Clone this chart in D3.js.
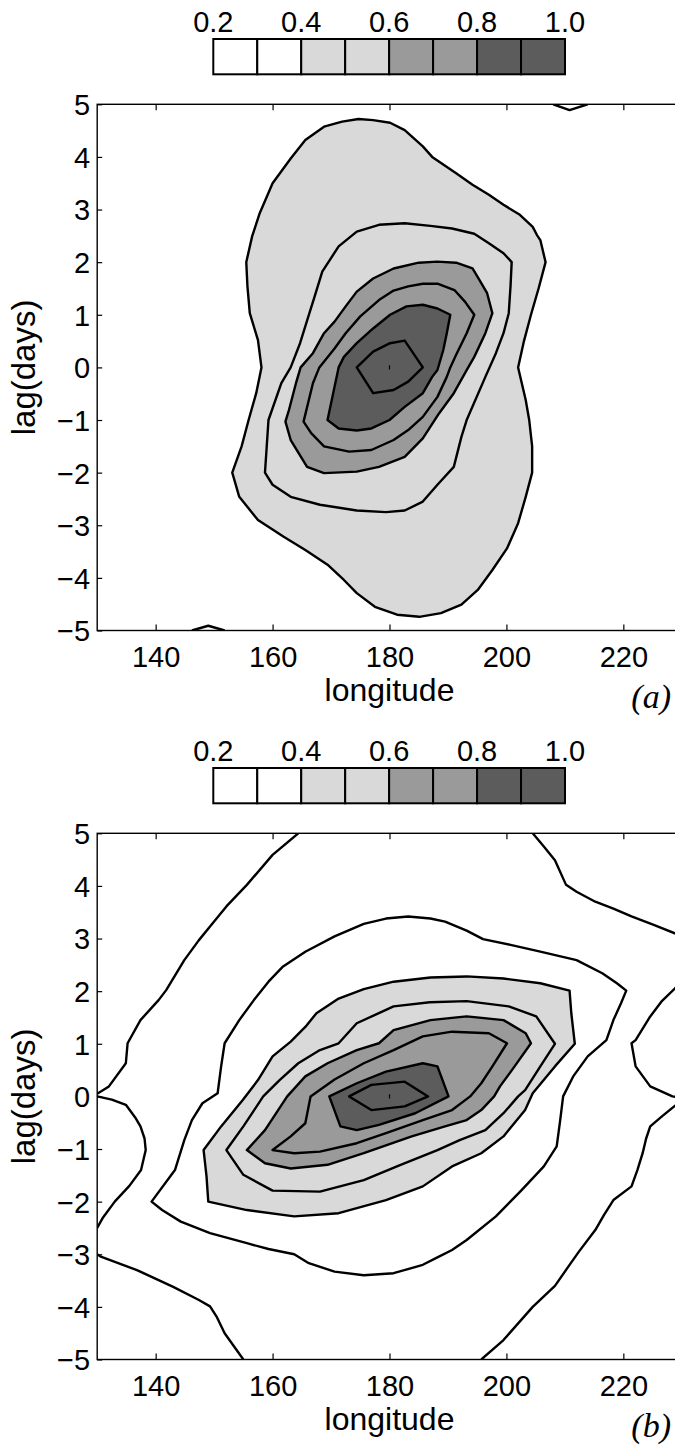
<!DOCTYPE html>
<html>
<head>
<meta charset="utf-8">
<script src="https://cdn.jsdelivr.net/npm/d3@7"></script>
<style>
  body { margin: 0; background: #fff; }
  svg { display: block; }
</style>
</head>
<body>
<svg id="chart" width="675" height="1447"></svg>
<script>
// ---- data ----
var cbLevels = [0.2, 0.3, 0.4, 0.5, 0.6, 0.7, 0.8, 0.9, 1.0];
var cbTicks = [0.2, 0.4, 0.6, 0.8, 1.0];
var lonTicks = [140, 160, 180, 200, 220];
var lagTicks = [-5, -4, -3, -2, -1, 0, 1, 2, 3, 4, 5];

// contour vertices as [longitude, lag]
// panel (a)
var a02top = [[208, 5], [210.8, 4.89], [213.9, 5]];
var a02bot = [[146.2, -5], [149, -4.91], [151.8, -5]];
var a04 = [[174.7, 4.72], [177.2, 4.70], [180.1, 4.65], [182.6, 4.51], [185.7, 4.2], [187.3, 4.0], [191.4, 3.69],
  [194.2, 3.47], [197, 3.28], [199.5, 3.09], [202.3, 2.9], [204.5, 2.67], [205.2, 2.52], [205.8, 2.42], [206.7, 2.0],
  [205.5, 1.5], [204.2, 1.0], [203, 0.5], [202, 0.0], [202.5, -0.24], [203.3, -0.62], [203.9, -1.0], [204.4, -1.5],
  [204.4, -2.0], [203.3, -2.46], [202, -2.96], [200.1, -3.44], [197.6, -3.85], [195.1, -4.23], [192.3, -4.51],
  [188.8, -4.67], [185.1, -4.74], [181.3, -4.70], [177.5, -4.55], [174.4, -4.29], [172.2, -4.04], [169.4, -3.75],
  [165.6, -3.47], [161.9, -3.22], [157.5, -2.9], [154.3, -2.46], [153.1, -2.0], [154.7, -1.5], [155.9, -1.0],
  [157.2, -0.49], [158.1, 0], [157.5, 0.52], [156.1, 1.03], [155.7, 1.54], [155.5, 2.0], [156.5, 2.49], [157.8, 2.93],
  [160, 3.5], [163.1, 3.97], [165.6, 4.32], [168.8, 4.575], [171.9, 4.67]];
var a05 = [[182.6, 2.74], [187, 2.69], [190.7, 2.64], [194.5, 2.54], [197, 2.36], [199.5, 2.17], [200.9, 2.0],
  [200.7, 1.54], [200.4, 1.03], [199.5, 0.65], [198.2, 0.27], [196.4, -0.18], [193.2, -1.0], [192.3, -1.32],
  [191, -1.89], [188.2, -2.23], [185.7, -2.55], [182.6, -2.72], [179.4, -2.75], [174.4, -2.72], [168.1, -2.61],
  [163.1, -2.46], [160, -2.23], [158.7, -2.0], [159, -1.5], [159.3, -1.0], [161.5, -0.30], [163.1, 0.0],
  [164.7, 0.46], [166.3, 1.03], [167.2, 1.35], [168.5, 1.82], [171.3, 2.30], [174.4, 2.58], [178.2, 2.71]];
var a06 = [[185, 1.99], [188.2, 2.01], [191.4, 1.99], [194.2, 1.88], [195.4, 1.66], [196.7, 1.41], [197.6, 1.03],
  [196.4, 0.65], [194.5, 0.20], [193.2, -0.05], [191, -0.49], [188.5, -0.87], [185.7, -1.35], [182.6, -1.70],
  [178.2, -1.89], [174.4, -1.98], [168.8, -2.01], [165.9, -1.89], [163.1, -1.38], [162.2, -1.03], [162.8, -0.81],
  [164, -0.3], [164.8, 0], [166.9, 0.27], [168.8, 0.65], [170.6, 0.87], [172.5, 1.16], [174.4, 1.44], [177.2, 1.69],
  [180.7, 1.88]];
var a07 = [[185.7, 1.59], [188.2, 1.59], [191.1, 1.47], [192.9, 1.25], [194.5, 1.0], [193.2, 0.65], [191.4, 0.24],
  [190.4, 0], [189.8, -0.18], [188.2, -0.56], [185.7, -0.94], [183.2, -1.19], [180.7, -1.38], [176.9, -1.57],
  [173.1, -1.6], [168.8, -1.5], [166.6, -1.25], [165.3, -1.03], [166.9, -0.30], [168, 0], [170.6, 0.36],
  [172.5, 0.65], [175, 0.97], [178.2, 1.28], [180.7, 1.46], [183.2, 1.54]];
var a08 = [[185.7, 1.19], [188.2, 1.12], [190.4, 1.0], [189.8, 0.65], [189.2, 0.33], [188.2, -0.05], [187.3, -0.18],
  [185.7, -0.49], [182.6, -0.75], [180, -1.0], [176.9, -1.16], [174.4, -1.2], [171.3, -1.16], [169.4, -1.0],
  [170.6, -0.37], [171.3, 0], [172.2, 0.20], [174.4, 0.46], [177.2, 0.74], [180.1, 1.0], [182.9, 1.16]];
var a09 = [[182.6, 0.51], [180.1, 0.46], [177.2, 0.30], [174.4, 0], [177.2, -0.49], [180.7, -0.43], [183.2, -0.27], [185.7, 0]];
var a10 = [[180, -0.04], [180, 0.04]];

// panel (b)
var b02topLeft = [[164.4, 5], [160, 4.59], [155.6, 4.02], [152.1, 3.61], [149.3, 3.23], [147.4, 2.97], [144.9, 2.59],
  [141.8, 2.02], [140.5, 1.83], [137.4, 1.45], [135.2, 1.01], [134.9, 0.63], [132, 0.19], [130, 0.05]];
var b02topRight = [[204.5, 5], [206.4, 4.75], [208.3, 4.49], [210.2, 4.02], [212, 3.89], [215.2, 3.7], [218.3, 3.57],
  [221.4, 3.42], [225.2, 3.26], [228.8, 3.1], [230, 3.04]];
var b02leftLoop = [[130, 0.0], [132.5, -0.06], [134.9, -0.16], [136.5, -0.4], [137.4, -0.57], [138.1, -0.8],
  [138.3, -1.02], [137.5, -1.4], [135.5, -1.7], [133, -2.0], [131, -2.3], [130, -2.5]];
var b02lowLeft = [[130, -3.0], [130.5, -3.04], [136.8, -3.3], [143, -3.62], [147.4, -3.87], [149.3, -3.99],
  [150.5, -4.2], [151.8, -4.5], [155, -5]];
var b02rightLoop = [[230, 2.2], [228.8, 2.05], [226.5, 1.8], [224.6, 1.52], [222.1, 1.07], [221.4, 1.01], [222.1, 0.57],
  [224.6, 0.19], [228.4, 0.0], [230, -0.02]];
var b02lowRight = [[230, -0.12], [228.8, -0.18], [226.6, -0.38], [224.6, -0.57], [223.9, -0.8], [223.3, -1.08],
  [222.4, -1.4], [221.4, -1.71], [218.3, -1.97], [216.7, -2.25], [215.2, -2.54], [212.4, -2.95], [210.5, -3.25],
  [208.3, -3.6], [204.5, -4.0], [199.5, -4.63], [195.7, -5]];
var b03 = [[151.8, 1.01], [154.3, 1.45], [156.8, 1.83], [159.3, 2.18], [161.8, 2.47], [165.6, 2.75], [170.6, 3.04],
  [175.6, 3.28], [179.4, 3.38], [183.2, 3.42], [187, 3.38], [189.5, 3.32], [193.2, 3.15], [196, 2.99], [200.7, 2.88],
  [205.8, 2.75], [212, 2.59], [216.4, 2.34], [218.9, 2.15], [220.5, 2.01], [219.6, 1.77], [218.3, 1.45], [217.1, 1.07],
  [213.9, 0.76], [211.4, 0.375], [209.7, 0], [209.2, -0.45], [208.6, -0.95], [206.4, -1.33], [202.6, -1.78],
  [198.2, -2.28], [193.2, -2.73], [190.7, -2.92], [188.2, -3.06], [185.7, -3.2], [180.7, -3.36], [175.6, -3.4],
  [170.6, -3.33], [166.2, -3.17], [163.7, -3.0], [159.3, -2.9], [155.6, -2.79], [149.3, -2.6], [144.3, -2.38],
  [141.1, -2.16], [139.3, -2.0], [143.3, -1.40], [144.9, -0.83], [146.2, -0.45], [148, -0.13], [150.6, 0.06],
  [151.2, 0.57]];
var b04 = [[148.2, -1.02], [151.2, -0.57], [154.9, -0.07], [157.5, 0.31], [160, 0.76], [163.1, 1.04], [165.6, 1.32],
  [167.5, 1.58], [171.3, 1.86], [175.6, 2.04], [180.7, 2.18], [187, 2.26], [193.2, 2.28], [199.5, 2.24], [205.8, 2.15],
  [210.8, 2.01], [211.1, 1.58], [211.7, 1.0], [208.3, 0.57], [204.5, 0.06], [203.2, -0.26], [199.5, -0.76],
  [195.7, -1.08], [190.7, -1.33], [185.7, -1.71], [179.4, -1.97], [171.3, -2.22], [163.7, -2.28], [155.6, -2.16],
  [149, -2.0], [148.7, -1.52]];
var b05 = [[174.4, 1.39], [180.7, 1.71], [186.9, 1.79], [193.2, 1.81], [200.4, 1.71], [205.1, 1.52], [208.3, 1.0],
  [205.8, 0.57], [203.2, 0.12], [202, 0], [199.5, -0.32], [196.4, -0.64], [192, -0.83], [188.2, -1.02], [181.9, -1.30],
  [175.6, -1.59], [168.1, -1.81], [160, -1.79], [155, -1.49], [152.1, -1.02], [155, -0.57], [158.4, 0], [161.2, 0.31],
  [164.4, 0.63], [168.1, 0.88], [171.3, 1.01]];
var b06 = [[180.7, 1.26], [187, 1.45], [193.2, 1.52], [199.5, 1.45], [203.3, 1.2], [204.2, 1.01], [201.4, 0.57],
  [198.9, 0.19], [197.9, 0], [195.7, -0.26], [193.2, -0.45], [189.5, -0.57], [183.8, -0.76], [175.6, -1.08],
  [169.4, -1.30], [163.1, -1.37], [158.7, -1.27], [155.6, -1.02], [158.7, -0.64], [162.5, 0], [165.6, 0.38],
  [169.4, 0.63], [174.4, 0.88], [178.2, 1.01]];
var b07 = [[185.7, 1.14], [190.7, 1.23], [197, 1.2], [200.1, 1.01], [197.6, 0.57], [195.7, 0.25], [193.8, 0],
  [190.7, -0.26], [185.7, -0.45], [179.4, -0.70], [174.4, -0.89], [168.1, -1.05], [163.7, -1.08], [160, -1.02],
  [163.1, -0.76], [165.6, -0.51], [166.5, 0], [170.6, 0.32], [175.6, 0.63], [180.7, 0.88]];
var b08 = [[169.7, 0], [174.4, 0.25], [179.4, 0.47], [185.7, 0.63], [188.2, 0.57], [190.1, 0], [184.4, -0.32],
  [178.2, -0.54], [174.4, -0.64], [171.6, -0.57]];
var b09 = [[173.1, 0], [176.9, 0.22], [182.6, 0.28], [186.6, 0], [182.6, -0.19], [176.9, -0.26]];
var b10 = [[180, -0.04], [180, 0.04]];

var panelA = [
  { level: 0.2, closed: false, pts: a02top },
  { level: 0.2, closed: false, pts: a02bot },
  { level: 0.4, closed: true, pts: a04 },
  { level: 0.5, closed: true, pts: a05 },
  { level: 0.6, closed: true, pts: a06 },
  { level: 0.7, closed: true, pts: a07 },
  { level: 0.8, closed: true, pts: a08 },
  { level: 0.9, closed: true, pts: a09 },
  { level: 1.0, closed: false, pts: a10 }
];
var panelB = [
  { level: 0.2, closed: false, pts: b02topLeft },
  { level: 0.2, closed: false, pts: b02topRight },
  { level: 0.2, closed: false, pts: b02leftLoop },
  { level: 0.2, closed: false, pts: b02lowLeft },
  { level: 0.2, closed: false, pts: b02rightLoop },
  { level: 0.2, closed: false, pts: b02lowRight },
  { level: 0.3, closed: true, pts: b03 },
  { level: 0.4, closed: true, pts: b04 },
  { level: 0.5, closed: true, pts: b05 },
  { level: 0.6, closed: true, pts: b06 },
  { level: 0.7, closed: true, pts: b07 },
  { level: 0.8, closed: true, pts: b08 },
  { level: 0.9, closed: true, pts: b09 },
  { level: 1.0, closed: false, pts: b10 }
];

// ---- layout ----
var plot = { left: 97.2, right: 681.8, top: 104.3, bottom: 630.5 };
var panelShift = 729;
var fontSans = "'Liberation Sans', Arial, Helvetica, sans-serif";

// gray bands: white below 0.4, then light, mid, dark
var color = d3.scaleThreshold()
  .domain([0.4, 0.6, 0.8])
  .range(["#ffffff", "#d9d9d9", "#9a9a9a", "#5c5c5c"]);

var svg = d3.select("#chart");

function drawPanel(contours, dy, label, id) {
  var g = svg.append("g").attr("transform", "translate(0," + dy + ")");

  var x = d3.scaleLinear().domain([130, 230]).range([plot.left, plot.right]);
  var y = d3.scaleLinear().domain([-5, 5]).range([plot.bottom, plot.top]);
  var cb = d3.scaleLinear().domain([0.2, 1.0]).range([213.3, 565]);

  // colour bar
  var boxes = d3.pairs(cbLevels);
  g.selectAll(".cbox")
    .data(boxes)
    .enter()
    .append("rect")
    .attr("class", "cbox")
    .attr("x", function(d) { return cb(d[0]); })
    .attr("y", 39)
    .attr("width", function(d) { return cb(d[1]) - cb(d[0]); })
    .attr("height", 35.3)
    .attr("fill", function(d) { return color(d[0] + 0.001); })
    .attr("stroke", "#000")
    .attr("stroke-width", 2);

  g.selectAll(".cbtick")
    .data(cbTicks)
    .enter()
    .append("text")
    .attr("x", function(d) { return cb(d); })
    .attr("y", 32.3)
    .attr("text-anchor", "middle")
    .attr("font-family", fontSans)
    .attr("font-size", 29)
    .text(function(d) { return d3.format(".1f")(d); });

  // clip for the contours
  g.append("clipPath").attr("id", id)
    .append("rect")
    .attr("x", plot.left).attr("y", plot.top)
    .attr("width", plot.right - plot.left).attr("height", plot.bottom - plot.top);

  var line = d3.line()
    .x(function(d) { return x(d[0]); })
    .y(function(d) { return y(d[1]); });

  var cg = g.append("g").attr("clip-path", "url(#" + id + ")");

  // filled bands first (only closed curves that start a new gray)
  cg.selectAll(".band")
    .data(contours.filter(function(c) { return c.closed && [0.4, 0.6, 0.8].indexOf(c.level) >= 0; }))
    .enter()
    .append("path")
    .attr("d", function(c) { return line(c.pts) + "Z"; })
    .attr("fill", function(c) { return color(c.level); })
    .attr("stroke", "none");

  // contour lines
  cg.selectAll(".cline")
    .data(contours)
    .enter()
    .append("path")
    .attr("d", function(c) { return line(c.pts) + (c.closed ? "Z" : ""); })
    .attr("fill", "none")
    .attr("stroke", "#000")
    .attr("stroke-width", function(c) { return c.level >= 1 ? 1.2 : 2.4; })
    .attr("stroke-linejoin", "round");

  // frame
  g.append("rect")
    .attr("x", plot.left).attr("y", plot.top)
    .attr("width", plot.right - plot.left).attr("height", plot.bottom - plot.top)
    .attr("fill", "none")
    .attr("stroke", "#000")
    .attr("stroke-width", 1.4);

  // axes with inward ticks
  var xAxis = g.append("g")
    .attr("transform", "translate(0," + plot.bottom + ")")
    .call(d3.axisBottom(x).tickValues(lonTicks).tickSize(-6).tickSizeOuter(0).tickPadding(15.5));
  var xTop = g.append("g")
    .attr("transform", "translate(0," + plot.top + ")")
    .call(d3.axisTop(x).tickValues(lonTicks).tickSize(-6).tickSizeOuter(0).tickFormat(""));
  var yAxis = g.append("g")
    .attr("transform", "translate(" + plot.left + ",0)")
    .call(d3.axisLeft(y).tickValues(lagTicks).tickSize(-5).tickSizeOuter(0).tickPadding(7));

  [xAxis, xTop, yAxis].forEach(function(a) {
    a.attr("font-family", fontSans).attr("font-size", 29);
    a.select(".domain").remove();
    a.selectAll("line").attr("stroke-width", 1.2);
  });
  yAxis.selectAll("text").attr("dy", "0.36em");

  // axis titles
  g.append("text")
    .attr("x", x(180))
    .attr("y", 701)
    .attr("text-anchor", "middle")
    .attr("font-family", fontSans)
    .attr("font-size", 32)
    .text("longitude");

  g.append("text")
    .attr("transform", "translate(35," + y(0) + ") rotate(-90)")
    .attr("text-anchor", "middle")
    .attr("font-family", fontSans)
    .attr("font-size", 33)
    .text("lag(days)");

  // panel tag
  g.append("text")
    .attr("x", 671)
    .attr("y", 708)
    .attr("text-anchor", "end")
    .attr("font-family", "'Liberation Serif', 'Times New Roman', serif")
    .attr("font-style", "italic")
    .attr("font-size", 34)
    .text(label);
}

drawPanel(panelA, 0, "(a)", "clipA");
drawPanel(panelB, panelShift, "(b)", "clipB");
</script>
</body>
</html>
